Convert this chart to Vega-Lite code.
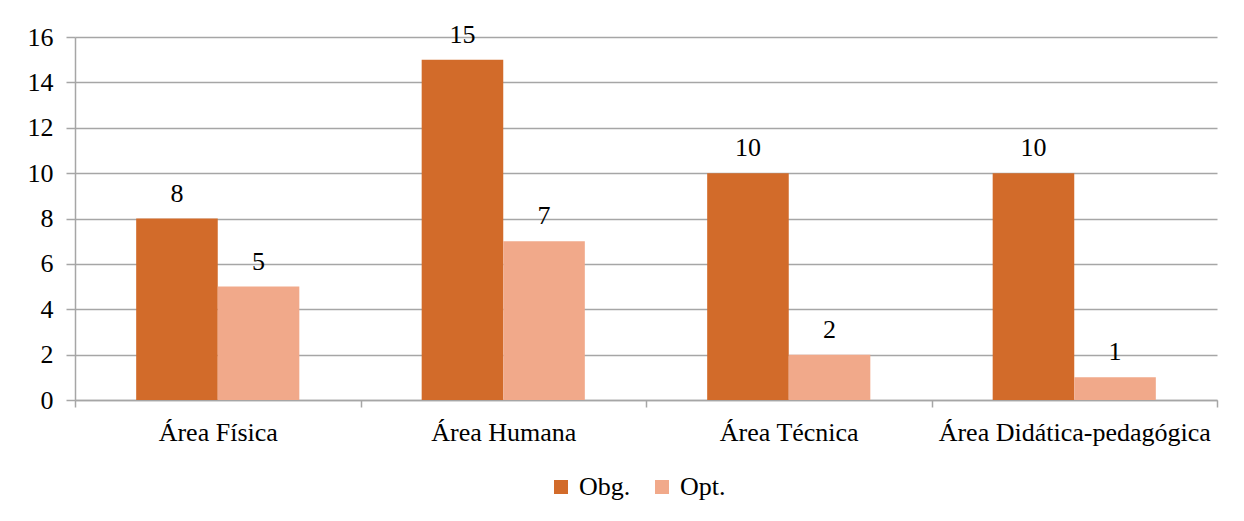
{
  "$schema": "https://vega.github.io/schema/vega-lite/v6.json",
  "width": 1142,
  "height": 363,
  "autosize": {"type": "none"},
  "padding": {"left": 75, "top": 37, "right": 27, "bottom": 121},
  "background": "white",
  "config": {
    "font": "'Liberation Serif', 'DejaVu Serif', serif",
    "view": {"stroke": null},
    "axis": {"labelFont": "'Liberation Serif', 'DejaVu Serif', serif", "labelColor": "#000000", "domainColor": "#a6a6a6", "tickColor": "#a6a6a6", "gridColor": "#a6a6a6", "domainWidth": 1.5, "tickWidth": 1.5, "gridWidth": 1.5, "labelLimit": 0},
    "legend": {"labelFont": "'Liberation Serif', 'DejaVu Serif', serif"},
    "text": {"font": "'Liberation Serif', 'DejaVu Serif', serif"}
  },
  "data": {
    "values": [
      {"area": "Área Física", "tipo": "Obg.", "valor": 8},
      {"area": "Área Física", "tipo": "Opt.", "valor": 5},
      {"area": "Área Humana", "tipo": "Obg.", "valor": 15},
      {"area": "Área Humana", "tipo": "Opt.", "valor": 7},
      {"area": "Área Técnica", "tipo": "Obg.", "valor": 10},
      {"area": "Área Técnica", "tipo": "Opt.", "valor": 2},
      {"area": "Área Didática-pedagógica", "tipo": "Obg.", "valor": 10},
      {"area": "Área Didática-pedagógica", "tipo": "Opt.", "valor": 1}
    ]
  },
  "encoding": {
    "x": {
      "field": "area", "type": "nominal", "sort": null, "title": null,
      "scale": {"paddingInner": 0, "paddingOuter": 0},
      "axis": {"labelAngle": 0, "labelFontSize": 26, "tickBand": "extent", "tickSize": 7, "labelPadding": 33, "labelBaseline": "alphabetic", "grid": false}
    },
    "xOffset": {"field": "tipo", "type": "nominal", "sort": ["Obg.", "Opt."], "scale": {"paddingInner": 0, "paddingOuter": 0.75}},
    "y": {
      "field": "valor", "type": "quantitative", "title": null,
      "scale": {"domain": [0, 16], "nice": false},
      "axis": {"values": [0, 2, 4, 6, 8, 10, 12, 14, 16], "labelFontSize": 26, "tickSize": 9, "labelPadding": 13, "grid": true}
    }
  },
  "layer": [
    {
      "mark": {"type": "bar"},
      "encoding": {
        "color": {
          "field": "tipo", "type": "nominal", "title": null,
          "scale": {"domain": ["Obg.", "Opt."], "range": ["#D26B2A", "#F1A98A"]},
          "legend": {"orient": "none", "legendX": 473, "legendY": 437, "direction": "horizontal", "symbolType": "square", "symbolSize": 196, "symbolStrokeWidth": 0, "labelFontSize": 26, "labelOffset": 5, "columnPadding": 18, "labelColor": "#000000", "labelFont": "'Liberation Serif', 'DejaVu Serif', serif"}
        }
      }
    },
    {
      "mark": {"type": "text", "baseline": "alphabetic", "dy": -17, "fontSize": 26, "color": "#000000", "font": "'Liberation Serif', 'DejaVu Serif', serif"},
      "encoding": {"text": {"field": "valor", "type": "quantitative"}}
    }
  ]
}
